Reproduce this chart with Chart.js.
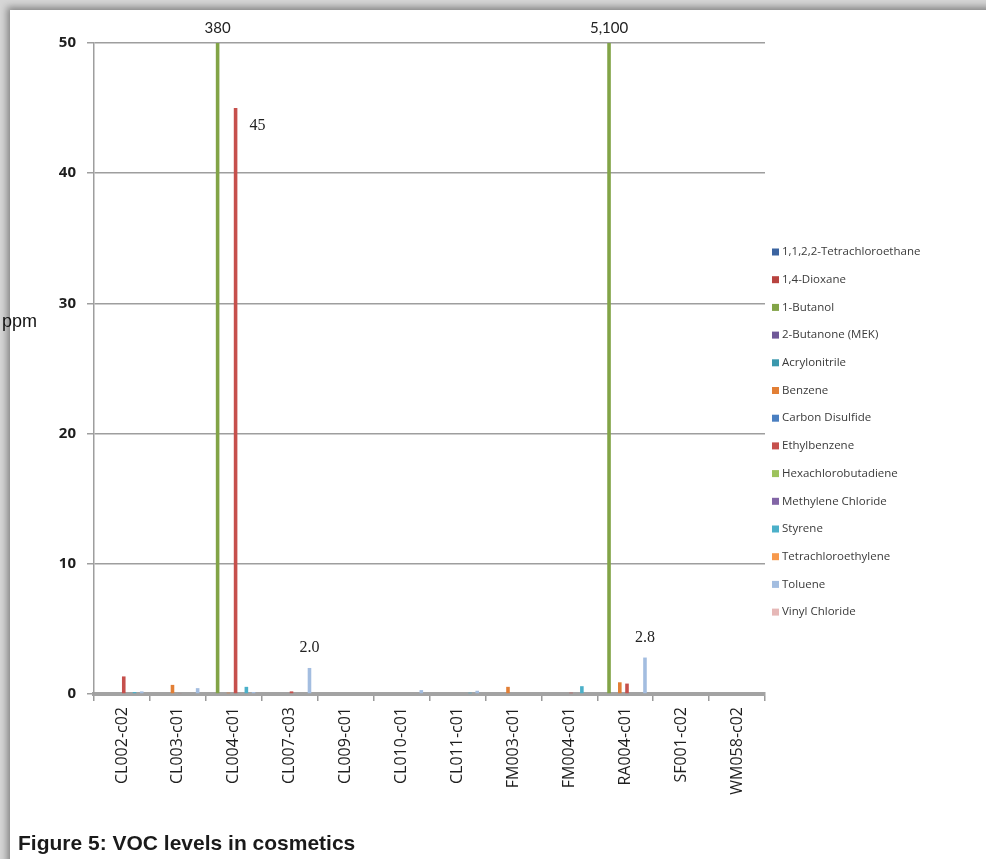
<!DOCTYPE html>
<html>
<head>
<meta charset="utf-8">
<script src="https://cdn.jsdelivr.net/npm/chart.js@4/dist/chart.umd.min.js"></script>
<style>
  html, body { margin: 0; padding: 0; }
  body { width: 986px; height: 859px; background: #d6d6d6; position: relative; overflow: hidden; }
  #panel { position: absolute; left: 10px; top: 10px; width: 990px; height: 860px; background: #fff;
           box-shadow: -3px -3px 7px rgba(0,0,0,0.38); }
  #chart { position: absolute; left: 0; top: 0; }
  #ppm { position: absolute; left: 2px; top: 311px; font: 18px "Liberation Sans", Arial, sans-serif; color: #111; }
  #caption { position: absolute; left: 18px; top: 831px; font: bold 21px "Liberation Sans", Arial, sans-serif; color: #1a1a1a; }
</style>
</head>
<body>
<div id="panel"></div>
<canvas id="chart" width="986" height="859"></canvas>
<div id="ppm">ppm</div>
<div id="caption">Figure 5: VOC levels in cosmetics</div>
<script>
// Sample IDs along the x axis
const samples = ['CL002-c02', 'CL003-c01', 'CL004-c01', 'CL007-c03', 'CL009-c01', 'CL010-c01',
                 'CL011-c01', 'FM003-c01', 'FM004-c01', 'RA004-c01', 'SF001-c02', 'WM058-c02'];

// Concentrations (ppm) per compound, one value per sample
const tetrachloroethane   = [0, 0, 0, 0, 0, 0, 0, 0, 0, 0, 0, 0];
const dioxane             = [0, 0, 0, 0, 0, 0, 0, 0, 0, 0, 0, 0];
const butanol             = [0, 0, 380, 0, 0, 0, 0, 0, 0, 5100, 0, 0];
const butanoneMEK         = [0, 0, 0, 0, 0, 0, 0, 0, 0, 0, 0, 0];
const acrylonitrile       = [0, 0, 0, 0, 0, 0, 0, 0, 0, 0, 0, 0];
const benzene             = [0, 0.7, 0.1, 0, 0, 0, 0, 0.55, 0, 0.9, 0, 0];
const carbonDisulfide     = [0, 0, 0, 0, 0, 0, 0, 0, 0, 0, 0, 0];
const ethylbenzene        = [1.35, 0.05, 45, 0.2, 0, 0, 0, 0, 0.1, 0.8, 0, 0];
const hexachlorobutadiene = [0, 0, 0, 0, 0, 0, 0, 0, 0, 0, 0, 0];
const methyleneChloride   = [0, 0, 0, 0, 0, 0, 0, 0, 0, 0, 0, 0];
const styrene             = [0.15, 0, 0.55, 0, 0, 0, 0.1, 0, 0.6, 0, 0, 0];
const tetrachloroethylene = [0, 0, 0, 0, 0, 0, 0, 0, 0, 0, 0, 0];
const toluene             = [0.2, 0.45, 0.15, 2.0, 0, 0.3, 0.25, 0, 0, 2.8, 0, 0];
const vinylChloride       = [0, 0, 0, 0, 0, 0, 0, 0, 0, 0, 0, 0];

// Y axis ticks
const yTicks = [0, 10, 20, 30, 40, 50];

const series = [
  ['1,1,2,2-Tetrachloroethane', tetrachloroethane,   '#3b64a0'],
  ['1,4-Dioxane',               dioxane,             '#b8433f'],
  ['1-Butanol',                 butanol,             '#82a447'],
  ['2-Butanone (MEK)',          butanoneMEK,         '#6f5898'],
  ['Acrylonitrile',             acrylonitrile,       '#3a98ad'],
  ['Benzene',                   benzene,             '#e27f35'],
  ['Carbon Disulfide',          carbonDisulfide,     '#4a7fc1'],
  ['Ethylbenzene',              ethylbenzene,        '#c6504c'],
  ['Hexachlorobutadiene',       hexachlorobutadiene, '#9dc35c'],
  ['Methylene Chloride',        methyleneChloride,   '#8265a6'],
  ['Styrene',                   styrene,             '#4bb0c9'],
  ['Tetrachloroethylene',       tetrachloroethylene, '#f7994c'],
  ['Toluene',                   toluene,             '#a3bde0'],
  ['Vinyl Chloride',            vinylChloride,       '#e6b8b7']
];

// Value annotations: [series name, sample index, placement]
const callouts = [
  ['1-Butanol', 2, 'top'],
  ['1-Butanol', 9, 'top'],
  ['Ethylbenzene', 2, 'right'],
  ['Toluene', 3, 'above'],
  ['Toluene', 9, 'above']
];

function fmt(v) {
  if (v >= 100) return v.toLocaleString('en-US');
  if (v < 10) return v.toFixed(1);
  return String(v);
}

const calloutPlugin = {
  id: 'callouts',
  afterDatasetsDraw(chart) {
    const ctx = chart.ctx;
    const area = chart.chartArea;
    ctx.save();
    ctx.fillStyle = '#222';
    ctx.textBaseline = 'middle';
    callouts.forEach(([name, idx, where]) => {
      const di = series.findIndex(s => s[0] === name);
      const bar = chart.getDatasetMeta(di).data[idx];
      const v = series[di][1][idx];
      const top = Math.max(bar.y, area.top);
      if (where === 'top') {
        ctx.font = '15px Lato, "Open Sans", sans-serif';
        ctx.textAlign = 'center';
        ctx.fillText(fmt(v), bar.x, area.top - 15);
      } else if (where === 'right') {
        ctx.font = '16px "Liberation Serif", serif';
        ctx.textAlign = 'left';
        ctx.fillText(fmt(v), bar.x + 14, top + 18);
      } else {
        ctx.font = '16px "Liberation Serif", serif';
        ctx.textAlign = 'center';
        ctx.fillText(fmt(v), bar.x, top - 20);
      }
    });
    ctx.restore();
  }
};

// Legend drawn as a plain column to the right of the plot
const sideLegend = {
  id: 'sideLegend',
  afterDraw(chart) {
    const ctx = chart.ctx;
    ctx.save();
    ctx.font = '11.5px "Open Sans", sans-serif';
    ctx.textBaseline = 'middle';
    ctx.textAlign = 'left';
    series.forEach(([name, , color], i) => {
      const y = 252 + i * 27.7;
      ctx.fillStyle = color;
      ctx.fillRect(772, y - 3.5, 7, 7);
      ctx.fillStyle = '#3a3a3a';
      ctx.fillText(name, 782, y);
    });
    ctx.restore();
  }
};

new Chart(document.getElementById('chart'), {
  type: 'bar',
  data: {
    labels: samples,
    datasets: series.map(([name, values, color]) => ({
      label: name,
      data: values,
      backgroundColor: color,
      borderWidth: 0,
      barPercentage: 1,
      categoryPercentage: 0.9
    }))
  },
  options: {
    responsive: false,
    animation: false,
    devicePixelRatio: 1,
    layout: { padding: { left: 20, top: 43, right: 221, bottom: 60 } },
    plugins: { legend: { display: false }, tooltip: { enabled: false } },
    scales: {
      x: {
        afterFit(scale) { scale.height = 105; },
        grid: { offset: true, drawOnChartArea: false, drawTicks: true, tickLength: 7, color: '#9a9a9a', lineWidth: 1.5 },
        border: { color: '#a3a3a3', width: 4 },
        ticks: {
          minRotation: 90, maxRotation: 90, autoSkip: false, padding: 6,
          color: '#1e1e1e', font: { family: '"Open Sans", sans-serif', size: 16 }
        }
      },
      y: {
        min: 0, max: 50,
        afterFit(scale) { scale.width = 74; },
        afterBuildTicks(scale) { scale.ticks = yTicks.map(v => ({ value: v })); },
        grid: { color: '#9e9e9e', lineWidth: 1.5, drawTicks: true, tickLength: 7 },
        border: { color: '#9e9e9e', width: 1.5 },
        ticks: {
          padding: 11, color: '#1e1e1e',
          font: { family: '"Open Sans", sans-serif', size: 15, weight: 'bold' }
        }
      }
    }
  },
  plugins: [calloutPlugin, sideLegend]
});
</script>
</body>
</html>
